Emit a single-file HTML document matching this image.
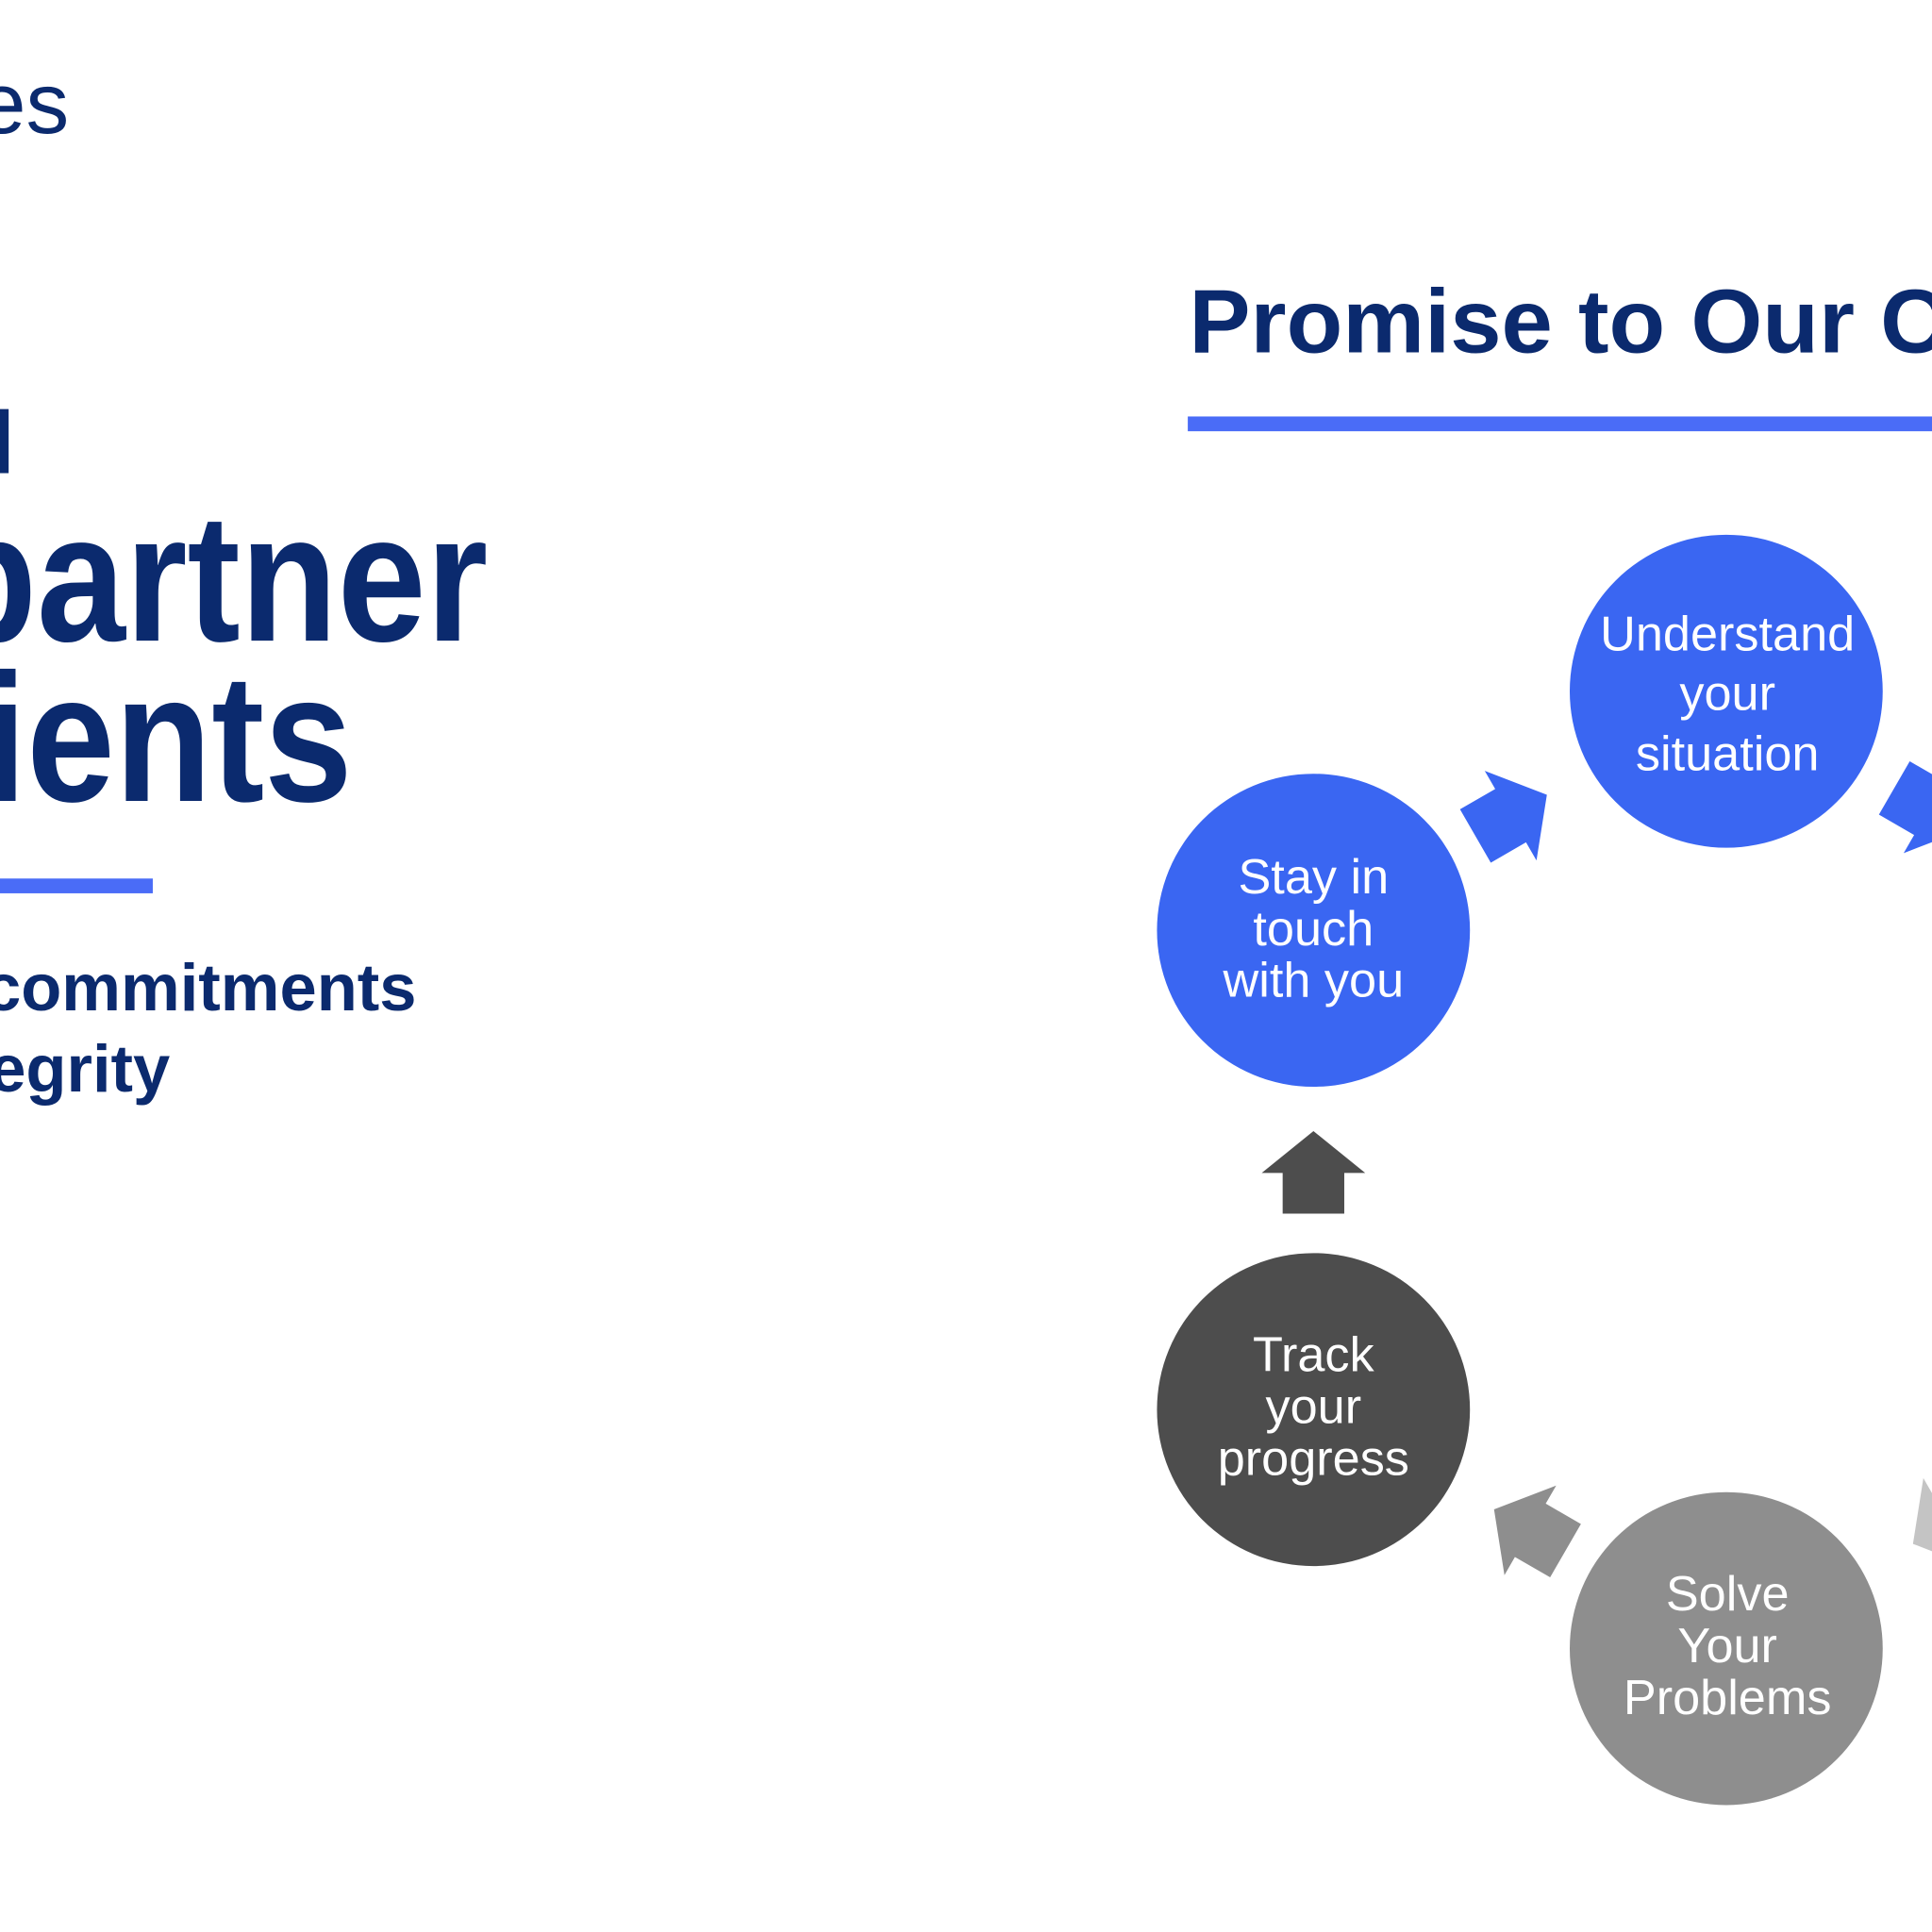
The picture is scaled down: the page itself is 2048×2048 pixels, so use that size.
<!DOCTYPE html>
<html><head><style>html,body{margin:0;padding:0;background:#fff;}svg{display:block}text{font-family:"Liberation Sans",Arial,sans-serif}</style></head>
<body>
<svg width="2048" height="2048" viewBox="0 0 1568 1568" xmlns="http://www.w3.org/2000/svg">
<rect width="1568" height="1568" fill="#fff"/>
<text x="56" y="108" text-anchor="end" font-size="70" fill="#0b2a6e">es</text>
<rect x="0" y="332" width="7" height="52" fill="#0b2a6e"/>
<text x="396" y="520" text-anchor="end" font-size="148" font-weight="bold" fill="#0b2a6e" textLength="445" lengthAdjust="spacingAndGlyphs">partner</text>
<text x="286" y="650" text-anchor="end" font-size="148" font-weight="bold" fill="#0b2a6e" textLength="300" lengthAdjust="spacingAndGlyphs">ients</text>
<rect x="0" y="713" width="124" height="12" fill="#4a6cf7"/>
<text x="338" y="820" text-anchor="end" font-size="54" font-weight="bold" fill="#0b2a6e">commitments</text>
<text x="138" y="886" text-anchor="end" font-size="54" font-weight="bold" fill="#0b2a6e">egrity</text>
<text x="965" y="286" font-size="73" font-weight="bold" fill="#0b2a6e" textLength="615" lengthAdjust="spacingAndGlyphs">Promise to Our C</text>
<rect x="964" y="338" width="604" height="12" fill="#4a6cf7"/>
<defs><path id="ar" d="M0,-34 L42,0 L25,0 L25,33 L-25,33 L-25,0 L-42,0 Z"/></defs>
<use href="#ar" transform="translate(1226,662) rotate(60)" fill="#3a66f2"/>
<use href="#ar" transform="translate(1566,656) rotate(120)" fill="#3a66f2"/>
<use href="#ar" transform="translate(1066,952)" fill="#4d4d4d"/>
<use href="#ar" transform="translate(1242,1242) rotate(-60)" fill="#8e8e8e"/>
<use href="#ar" transform="translate(1582,1236) rotate(-120)" fill="#c4c4c4"/>
<g font-size="40" fill="#fff" text-anchor="middle">
<circle cx="1401" cy="561" r="127" fill="#3a66f2"/>
<text x="1402" y="528">Understand</text><text x="1402" y="576">your</text><text x="1402" y="625">situation</text>
<circle cx="1066" cy="755" r="127" fill="#3a66f2"/>
<text x="1066" y="725">Stay in</text><text x="1066" y="767">touch</text><text x="1066" y="809">with you</text>
<circle cx="1066" cy="1144" r="127" fill="#4d4d4d"/>
<text x="1066" y="1113">Track</text><text x="1066" y="1155">your</text><text x="1066" y="1197">progress</text>
<circle cx="1401" cy="1338" r="127" fill="#8e8e8e"/>
<text x="1402" y="1307">Solve</text><text x="1402" y="1349">Your</text><text x="1402" y="1391">Problems</text>
</g>
</svg>
</body></html>
